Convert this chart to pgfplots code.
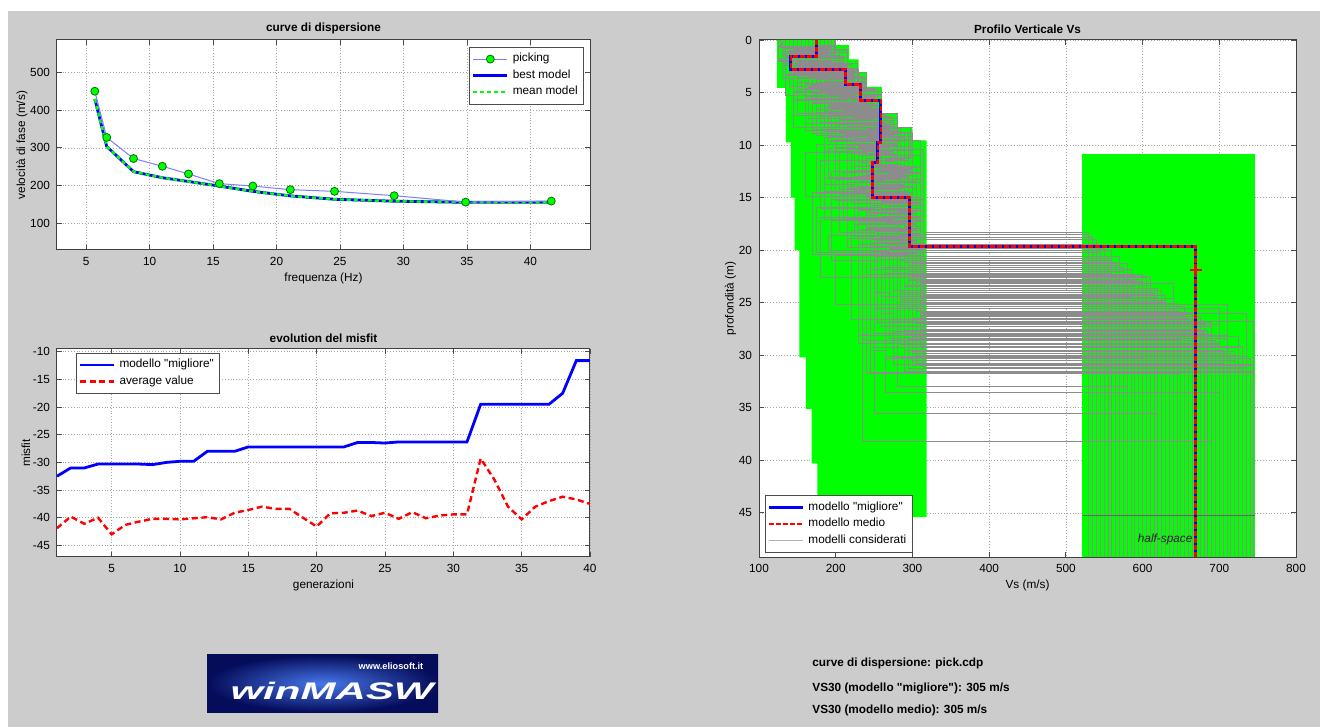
\documentclass[border=0pt]{standalone}
\usepackage{pgfplots}
\pgfplotsset{compat=1.18}
\usepackage{fontspec}
\setmainfont{Liberation Sans}[Ligatures=TeXOff]
\definecolor{bg}{RGB}{204,204,204}
\definecolor{pick}{RGB}{125,125,255}
\definecolor{mgreen}{RGB}{0,255,0}
\definecolor{mblue}{RGB}{0,0,255}
\definecolor{mred}{RGB}{255,0,0}
\definecolor{mgray}{RGB}{140,140,140}
\definecolor{logoin}{RGB}{70,120,235}
\definecolor{logoout}{RGB}{5,12,90}
\newcommand{\fs}{\fontsize{5.9}{7}\selectfont}
\pgfplotsset{
  mat/.style={scale only axis, anchor=south west,
    axis background/.style={fill=white},
    grid=major, grid style={densely dotted, line width=0.3pt, black!35},
    tick align=inside, major tick length=2.5pt,
    tick style={black!70, line width=0.4pt},
    axis line style={black!75, line width=0.5pt},
    tick label style={font=\fs}, label style={font=\fs},
    title style={font=\fs\bfseries, yshift=-6.5pt},
    xlabel shift=-3pt, ylabel shift=-5.5pt,
    legend style={font=\fs, draw=black!70, fill=white, line width=0.4pt, inner sep=1pt, row sep=-1.5pt},
    legend cell align=left,
    /pgf/number format/assume math mode=true,
    /pgf/number format/1000 sep={}},
  mdl/.style={const plot mark right, mgray, line width=0.45pt, forget plot, mark=none}
}
\begin{document}
\begin{tikzpicture}
\useasboundingbox (0,0) rectangle (660pt,363.5pt);
\fill[bg] (0,0) rectangle (660pt,363.5pt);
\fill[white] (0,358.2pt) rectangle (660pt,363.5pt);
\fill[white] (0,0) rectangle (4pt,363.5pt);

% ---------- curve di dispersione
\begin{axis}[mat, at={(28.5pt,238.5pt)}, width=266.5pt, height=105pt,
  xmin=2.7, xmax=44.7, ymin=30, ymax=585,
  xtick={5,10,...,40}, ytick={100,200,...,500},
  title={curve di dispersione}, xlabel={frequenza (Hz)}, ylabel={velocità di fase (m/s)},
  legend style={at={(0.989,0.967)}, anchor=north east}]
\addplot[mblue, line width=1.4pt, forget plot] coordinates {
(5.68,429)(6.62,303.5)(8.73,237)(11.0,221)(13.06,211)(15.49,199)(18.13,185)(21.09,173)(24.57,164)(29.27,159)(34.9,156)(41.65,156)};
\addplot[mgreen, line width=1.2pt, dash pattern=on 2pt off 1.5pt, forget plot] coordinates {
(5.68,429)(6.62,303.5)(8.73,237)(11.0,221)(13.06,211)(15.49,199)(18.13,185)(21.09,173)(24.57,164)(29.27,159)(34.9,156)(41.65,156)};
\addplot[pick, line width=0.5pt, mark=*, mark size=2pt, mark options={fill=mgreen, draw=green!45!black, line width=0.4pt}, forget plot] coordinates {
(5.68,449.6)(6.62,327.4)(8.73,271.7)(11.0,251.3)(13.06,231)(15.49,205.3)(18.13,199)(21.09,189.4)(24.57,185)(29.27,173.5)(34.9,156.6)(41.65,159.3)};
\addlegendimage{pick, line width=0.5pt, mark=*, mark size=2pt, mark options={fill=mgreen, draw=green!45!black, line width=0.4pt}}
\addlegendentry{picking}
\addlegendimage{mblue, line width=1.4pt}
\addlegendentry{best model}
\addlegendimage{mgreen, line width=1.2pt, dash pattern=on 2pt off 1.5pt}
\addlegendentry{mean model}
\end{axis}

% ---------- evolution del misfit
\begin{axis}[mat, at={(28.5pt,85pt)}, width=266.5pt, height=104pt,
  xmin=1, xmax=40, ymin=-47.1, ymax=-9.5,
  xtick={5,10,...,40}, ytick={-45,-40,...,-10},
  title={evolution del misfit}, xlabel={generazioni}, ylabel={misfit},
  legend style={at={(0.036,0.982)}, anchor=north west}]
\addplot[mblue, line width=1.4pt] coordinates {
(1,-32.5)(2,-31.0)(3,-31.0)(4,-30.3)(5,-30.3)(6,-30.3)(7,-30.3)(8,-30.4)(9,-30.0)(10,-29.8)
(11,-29.8)(12,-28.0)(13,-28.0)(14,-28.0)(15,-27.2)(16,-27.2)(17,-27.2)(18,-27.2)(19,-27.2)(20,-27.2)
(21,-27.2)(22,-27.2)(23,-26.4)(24,-26.4)(25,-26.5)(26,-26.3)(27,-26.3)(28,-26.3)(29,-26.3)(30,-26.3)
(31,-26.3)(32,-19.5)(33,-19.5)(34,-19.5)(35,-19.5)(36,-19.5)(37,-19.5)(38,-17.5)(39,-11.6)(40,-11.6)};
\addlegendentry{modello "migliore"}
\addplot[mred, line width=1.2pt, dash pattern=on 3pt off 1.8pt] coordinates {
(1,-41.9)(2,-39.8)(3,-41.1)(4,-40.0)(5,-43.0)(6,-41.3)(7,-40.7)(8,-40.2)(9,-40.2)(10,-40.3)
(11,-40.1)(12,-39.9)(13,-40.3)(14,-39.1)(15,-38.6)(16,-38.0)(17,-38.4)(18,-38.4)(19,-40.0)(20,-41.6)
(21,-39.2)(22,-39.1)(23,-38.7)(24,-39.7)(25,-39.1)(26,-40.2)(27,-39.0)(28,-40.1)(29,-39.6)(30,-39.4)
(31,-39.4)(32,-29.3)(33,-33.1)(34,-38.0)(35,-40.3)(36,-38.0)(37,-37.0)(38,-36.2)(39,-36.7)(40,-37.5)};
\addlegendentry{average value}
\end{axis}

% ---------- Profilo Verticale Vs
\begin{axis}[mat, at={(379.5pt,85pt)}, width=268.5pt, height=258.5pt,
  xmin=100, xmax=800, ymin=0, ymax=49.2, y dir=reverse,
  xtick={100,200,...,800}, ytick={0,5,...,45},
  title={Profilo Verticale Vs}, xlabel={Vs (m/s)}, ylabel={profondità (m)},
  legend style={at={(0.011,0.008)}, anchor=south west}]
\addplot[fill=mgreen, draw=none, forget plot] coordinates {
(123.5,0)(200,0)(200,0.5)(217.5,0.5)(217.5,1.85)(230,1.85)(230,3.1)(241,3.1)(241,4.46)(260,4.46)
(260,7.0)(281,7.0)(281,8.3)(300,8.3)(300,9.56)(318.5,9.56)(318.5,45.4)(176,45.4)(176,40.3)
(168.5,40.3)(168.5,35.1)(161,35.1)(161,30.2)(152.5,30.2)(152.5,20)(146.5,20)(146.5,15)(141.5,15)
(141.5,9.75)(135,9.75)(135,4.55)(123.5,4.55)} -- cycle;
\addplot[fill=mgreen, draw=none, forget plot] coordinates {
(521,10.83)(746.5,10.83)(746.5,49.2)(521,49.2)} -- cycle;
% models considered
\addplot[mdl] coordinates {(160,0)(150,1.2)(190,2.5)(220,4.0)(245,6.0)(270,8.5)(260,12.0)(300,16.0)(610,22.5)(610,49.2)};
\addplot[mdl] coordinates {(190,0)(165,0.8)(205,2.2)(240,4.5)(258,6.5)(280,9.0)(290,13.0)(305,17.5)(700,25.5)(700,49.2)};
\addplot[mdl] coordinates {(150,0)(140,1.5)(180,3.0)(200,4.8)(230,7.0)(250,10.0)(275,13.5)(285,18.0)(560,21.0)(560,49.2)};
\addplot[mdl] coordinates {(170,0)(155,1.0)(200,2.6)(225,3.8)(250,5.5)(240,8.0)(265,11.0)(310,15.5)(735,26.0)(735,49.2)};
\addplot[mdl] coordinates {(145,0)(160,1.8)(175,3.2)(215,5.0)(235,7.5)(260,10.5)(280,14.0)(295,19.0)(650,28.5)(650,49.2)};
\addplot[mdl] coordinates {(180,0)(145,1.4)(210,2.9)(230,4.3)(250,6.0)(255,9.5)(245,12.5)(290,16.5)(590,23.5)(590,49.2)};
\addplot[mdl] coordinates {(155,0)(170,0.6)(195,2.0)(210,3.5)(240,5.2)(275,7.8)(295,11.5)(300,15.0)(720,30.5)(720,49.2)};
\addplot[mdl] coordinates {(200,0)(150,1.9)(185,3.3)(245,4.6)(255,6.8)(265,9.2)(270,12.8)(280,17.0)(545,20.2)(545,49.2)};
\addplot[mdl] coordinates {(165,0)(175,1.1)(215,2.4)(235,4.1)(225,6.2)(250,9.8)(285,13.2)(305,18.5)(680,27.0)(680,49.2)};
\addplot[mdl] coordinates {(140,0)(155,1.6)(170,2.7)(205,4.4)(245,6.6)(280,8.8)(260,12.2)(310,16.8)(620,24.5)(620,49.2)};
\addplot[mdl] coordinates {(185,0)(160,0.9)(220,2.3)(235,3.9)(260,5.8)(245,9.0)(275,11.8)(290,15.8)(745,31.5)(745,49.2)};
\addplot[mdl] coordinates {(150,0)(145,1.3)(190,3.1)(215,4.7)(235,7.2)(270,10.2)(300,14.5)(295,19.5)(575,22.0)(575,49.2)};
\addplot[mdl] coordinates {(175,0)(165,1.7)(200,2.8)(240,4.2)(255,6.3)(260,9.6)(250,12.0)(285,17.2)(700,29.0)(700,49.2)};
\addplot[mdl] coordinates {(160,0)(150,1.0)(210,2.1)(220,4.0)(250,5.6)(265,8.4)(290,11.4)(305,15.2)(530,18.5)(530,49.2)};
\addplot[mdl] coordinates {(195,0)(170,1.5)(180,2.6)(230,4.5)(258,6.9)(255,9.4)(280,13.6)(300,18.2)(660,26.5)(660,49.2)};
\addplot[mdl] coordinates {(145,0)(150,1.2)(195,3.0)(205,4.9)(240,7.1)(250,10.6)(270,14.2)(310,19.8)(600,23.0)(600,49.2)};
\addplot[mdl] coordinates {(170,0)(140,0.7)(205,2.4)(238,3.7)(255,5.4)(275,8.2)(265,11.6)(290,16.2)(690,28.0)(690,49.2)};
\addplot[mdl] coordinates {(155,0)(160,1.8)(185,3.4)(225,5.1)(260,7.4)(240,10.8)(285,14.8)(300,18.8)(555,20.8)(555,49.2)};
\addplot[mdl] coordinates {(180,0)(155,1.4)(215,2.5)(235,4.3)(245,6.4)(270,9.1)(260,12.6)(305,17.6)(725,30.0)(725,49.2)};
\addplot[mdl] coordinates {(165,0)(145,1.1)(190,2.9)(210,4.6)(250,6.7)(285,9.7)(295,13.0)(285,16.4)(630,25.0)(630,49.2)};
\addplot[mdl] coordinates {(150,0)(165,1.6)(200,3.2)(230,4.4)(255,6.1)(250,8.6)(275,12.4)(310,18.4)(675,27.5)(675,49.2)};
\addplot[mdl] coordinates {(190,0)(150,0.9)(175,2.2)(220,4.1)(240,5.9)(260,9.3)(290,13.8)(295,17.8)(570,21.5)(570,49.2)};
\addplot[mdl] coordinates {(160,0)(170,1.3)(210,2.7)(238,3.9)(255,6.5)(245,9.9)(270,12.9)(300,16.6)(740,31.0)(740,49.2)};
\addplot[mdl] coordinates {(175,0)(145,1.7)(195,3.1)(215,4.8)(265,7.3)(275,10.4)(285,14.1)(305,19.2)(610,24.0)(610,49.2)};
\addplot[mdl] coordinates {(145,0)(155,1.0)(185,2.6)(235,4.2)(245,6.0)(265,9.0)(280,11.9)(290,15.6)(705,29.5)(705,49.2)};
\addplot[mdl] coordinates {(185,0)(160,1.5)(200,2.8)(225,4.4)(235,6.8)(255,10.1)(265,13.4)(300,17.4)(540,19.0)(540,49.2)};
\addplot[mdl] coordinates {(155,0)(150,1.2)(220,2.3)(238,3.6)(260,5.3)(270,8.1)(300,11.2)(310,16.0)(655,26.2)(655,49.2)};
\addplot[mdl] coordinates {(170,0)(165,1.9)(190,3.5)(205,5.2)(250,7.6)(240,10.9)(260,15.0)(295,20.0)(595,22.8)(595,49.2)};
\addplot[mdl] coordinates {(160,0)(150,1.4)(195,2.9)(225,4.5)(245,6.6)(250,10.0)(240,16.0)(235,28.0)(690,38.2)(690,49.2)};
\addplot[mdl] coordinates {(175,0)(160,1.1)(205,2.4)(230,4.0)(255,6.2)(265,9.3)(270,14.0)(250,24.0)(620,35.5)(620,49.2)};
\addplot[mdl] coordinates {(150,0)(155,1.6)(185,3.0)(215,4.6)(240,7.0)(260,10.3)(275,15.5)(280,22.0)(580,33.0)(580,49.2)};
\addplot[mdl] coordinates {(130,0)(200,0.6)(150,2.1)(238,3.6)(200,5.2)(280,8.0)(180,11.5)(240,16.0)(600,22.3)(600,49.2)};
\addplot[mdl] coordinates {(198,0)(135,1.8)(225,3.4)(180,5.3)(275,7.8)(220,10.8)(310,15.6)(200,20.5)(710,25.2)(710,49.2)};
\addplot[mdl] coordinates {(140,0)(215,1.0)(170,2.5)(240,4.2)(190,6.3)(290,9.2)(230,13.0)(315,17.3)(530,18.3)(530,49.2)};
\addplot[mdl] coordinates {(200,0)(175,0.5)(130,2.0)(240,3.7)(160,5.6)(260,8.6)(300,12.2)(270,15.8)(745,26.8)(745,49.2)};
\addplot[mdl] coordinates {(135,0)(185,1.5)(228,3.0)(150,4.9)(280,7.0)(175,9.9)(250,14.6)(310,19.0)(640,23.2)(640,49.2)};
\addplot[mdl] coordinates {(195,0)(155,1.3)(160,2.8)(205,4.6)(220,7.6)(315,10.4)(195,15.2)(260,21.0)(690,27.3)(690,49.2)};
\addplot[mdl] coordinates {(125,0)(210,1.9)(195,3.5)(160,5.4)(265,7.9)(230,11.0)(280,14.0)(190,18.6)(560,20.0)(560,49.2)};
\addplot[mdl] coordinates {(195,0)(130,0.8)(228,2.2)(240,3.9)(170,6.0)(295,8.9)(210,12.6)(300,17.0)(725,28.2)(725,49.2)};
\addplot[mdl] coordinates {(150,0)(215,1.2)(140,2.6)(190,4.4)(258,6.6)(200,9.5)(315,13.3)(245,19.4)(585,21.8)(585,49.2)};
\addplot[mdl] coordinates {(180,0)(195,1.6)(225,3.3)(145,5.0)(230,7.2)(260,10.1)(175,15.9)(305,20.2)(705,30.8)(705,49.2)};
\addplot[mdl] coordinates {(128,0)(165,0.7)(215,2.4)(238,4.0)(145,5.8)(298,8.3)(240,11.3)(285,16.4)(615,24.2)(615,49.2)};
\addplot[mdl] coordinates {(190,0)(140,1.4)(155,2.9)(230,4.7)(275,7.4)(185,10.6)(295,14.4)(220,18.1)(670,26.6)(670,49.2)};
\addplot[mdl] coordinates {(165,0)(215,1.0)(185,2.3)(175,3.8)(210,6.9)(250,9.0)(310,12.1)(265,17.9)(545,19.5)(545,49.2)};
\addplot[mdl] coordinates {(135,0)(180,1.7)(230,3.2)(260,5.2)(240,7.7)(160,10.7)(270,14.9)(315,19.9)(735,31.2)(735,49.2)};
\addplot[mdl] coordinates {(200,0)(125,0.6)(170,2.0)(195,4.3)(255,6.1)(225,9.4)(185,13.7)(275,17.1)(625,23.8)(625,49.2)};
\addplot[mdl] coordinates {(145,0)(205,1.5)(228,2.7)(215,4.5)(185,6.4)(285,8.7)(255,12.3)(240,16.7)(695,28.6)(695,49.2)};
\addplot[mdl] coordinates {(190,0)(170,1.1)(145,3.1)(255,4.9)(225,7.3)(200,10.2)(300,15.3)(290,20.8)(565,21.2)(565,49.2)};
\addplot[mdl] coordinates {(130,0)(150,1.9)(205,3.4)(170,5.1)(260,7.5)(240,10.5)(225,14.3)(300,18.7)(715,29.8)(715,49.2)};
\addplot[mdl] coordinates {(175,0)(215,0.9)(160,2.5)(235,4.1)(195,6.5)(270,9.6)(310,12.7)(180,16.9)(605,22.6)(605,49.2)};
\addplot[mdl] coordinates {(200,0)(160,1.2)(190,2.8)(250,4.6)(280,7.0)(215,10.0)(245,13.9)(305,19.6)(650,25.8)(650,49.2)};
\addplot[mdl] coordinates {(140,0)(190,1.6)(225,3.0)(185,4.8)(235,6.8)(300,9.2)(205,14.7)(250,18.3)(680,27.9)(680,49.2)};
\addplot[mdl] coordinates {(195,0)(145,0.8)(175,2.3)(225,3.8)(170,5.9)(255,8.5)(290,11.8)(310,17.7)(550,19.8)(550,49.2)};
\addplot[mdl] coordinates {(160,0)(200,1.3)(135,3.3)(200,5.3)(245,7.1)(190,10.3)(280,13.1)(265,18.9)(740,30.3)(740,49.2)};
\addplot[mdl] coordinates {(125,0)(175,1.8)(215,2.9)(240,4.4)(260,6.7)(280,9.8)(170,14.5)(295,20.4)(590,22.9)(590,49.2)};
\addplot[mdl] coordinates {(185,0)(205,1.0)(165,2.1)(150,4.0)(215,5.7)(235,8.2)(300,12.9)(230,17.5)(700,28.9)(700,49.2)};
\addplot[mdl] coordinates {(150,0)(140,1.4)(230,3.2)(210,5.0)(275,7.7)(310,11.0)(255,15.0)(285,19.1)(630,24.8)(630,49.2)};
\addplot[mdl] coordinates {(195,0)(180,0.7)(150,2.6)(255,4.7)(190,6.2)(265,9.7)(230,13.5)(315,16.2)(665,26.1)(665,49.2)};
\addplot[mdl] coordinates {(135,0)(215,1.7)(200,3.0)(175,4.3)(250,6.9)(215,10.0)(290,14.1)(260,18.8)(575,21.6)(575,49.2)};
\addplot[mdl] coordinates {(170,0)(130,1.1)(185,2.4)(238,3.9)(205,5.5)(300,8.8)(195,12.5)(310,17.2)(730,29.2)(730,49.2)};
\addplot[mdl] coordinates {(190,0)(185,1.5)(220,3.4)(165,5.4)(280,7.5)(245,10.9)(315,15.7)(250,20.6)(635,25.5)(635,49.2)};
\addplot[mdl] coordinates {(145,0)(175,0.9)(160,2.7)(235,4.2)(230,6.3)(185,9.3)(250,13.2)(290,19.3)(685,27.6)(685,49.2)};
\addplot[mdl] coordinates {(180,0)(150,1.9)(240,3.1)(195,4.6)(265,7.8)(295,10.4)(275,14.8)(300,18.0)(535,18.8)(535,49.2)};
\addplot[mdl] coordinates {(130,0)(195,1.3)(180,2.5)(260,4.9)(175,6.6)(225,9.1)(305,12.0)(270,16.5)(710,28.4)(710,49.2)};
\addplot[mdl] coordinates {(200,0)(165,0.6)(210,2.2)(220,4.1)(240,6.0)(280,8.4)(215,13.6)(310,19.7)(620,23.6)(620,49.2)};
\addplot[mdl] coordinates {(155,0)(210,1.6)(235,3.5)(180,5.1)(255,7.3)(205,10.6)(285,14.2)(245,17.8)(745,31.6)(745,49.2)};
\addplot[mdl] coordinates {(165,0)(185,1.2)(200,2.8)(215,4.5)(230,6.4)(245,10.0)(260,17.0)(275,26.0)(600,30.2)(600,49.2)};
\addplot[mdl] coordinates {(190,0)(160,0.8)(210,2.4)(235,4.2)(250,6.2)(270,9.6)(235,18.0)(240,28.5)(650,31.7)(650,49.2)};
\addplot[mdl] coordinates {(140,0)(175,1.5)(195,3.1)(205,4.9)(260,7.0)(230,11.0)(250,19.5)(265,29.5)(700,33.5)(700,49.2)};
\addplot[mdl] coordinates {(150,0)(165,1.3)(205,2.6)(225,4.3)(250,6.3)(275,9.0)(305,13.5)(265,18.0)(560,22.2)(560,49.2)};
\addplot[mdl] coordinates {(185,0)(145,0.9)(190,2.2)(215,3.7)(235,5.4)(260,8.1)(230,11.7)(285,16.9)(640,24.6)(640,49.2)};
\addplot[mdl] coordinates {(135,0)(175,1.6)(195,3.0)(230,4.5)(255,6.8)(240,10.3)(295,14.6)(315,19.4)(700,27.1)(700,49.2)};
\addplot[mdl] coordinates {(170,0)(155,1.1)(215,2.7)(200,4.0)(225,5.9)(290,8.9)(255,12.8)(300,17.3)(580,21.3)(580,49.2)};
\addplot[mdl] coordinates {(160,0)(190,1.8)(170,3.2)(210,5.0)(260,7.2)(300,10.1)(270,14.9)(245,20.1)(725,29.3)(725,49.2)};
\addplot[mdl] coordinates {(195,0)(160,0.7)(185,2.0)(240,4.1)(245,6.1)(225,9.4)(280,13.0)(310,18.6)(665,25.9)(665,49.2)};
\addplot[mdl] coordinates {(140,0)(150,1.4)(225,2.9)(195,4.6)(255,6.6)(280,9.9)(215,14.2)(290,18.9)(610,23.4)(610,49.2)};
\addplot[mdl] coordinates {(180,0)(205,1.0)(155,2.4)(235,3.6)(210,6.5)(265,8.7)(310,12.6)(275,17.0)(745,30.9)(745,49.2)};
\addplot[mdl] coordinates {(155,0)(140,1.7)(180,3.3)(220,5.1)(240,7.5)(295,10.5)(260,15.4)(305,20.3)(545,21.0)(545,49.2)};
\addplot[mdl] coordinates {(190,0)(175,1.2)(210,2.5)(190,4.4)(265,7.1)(235,9.8)(300,13.9)(255,18.4)(690,26.9)(690,49.2)};
\addplot[mdl] coordinates {(130,0)(195,1.5)(215,3.1)(250,4.8)(230,6.9)(270,10.0)(245,14.4)(315,19.0)(630,24.3)(630,49.2)};
\addplot[mdl] coordinates {(175,0)(150,0.8)(200,2.1)(220,3.8)(245,5.7)(285,8.4)(300,12.3)(230,16.1)(710,28.1)(710,49.2)};
\addplot[mdl] coordinates {(200,0)(170,1.9)(160,3.4)(205,5.3)(250,7.7)(260,11.2)(285,15.1)(295,19.8)(590,22.4)(590,49.2)};
\addplot[mdl] coordinates {(145,0)(185,1.0)(230,2.8)(180,4.3)(235,6.0)(310,9.6)(240,13.6)(280,17.8)(655,25.4)(655,49.2)};
\addplot[mdl] coordinates {(165,0)(155,1.5)(190,3.0)(245,4.7)(270,7.3)(250,10.7)(305,14.0)(265,19.1)(735,30.1)(735,49.2)};
\addplot[mdl] coordinates {(185,0)(200,1.3)(175,2.6)(215,4.0)(230,5.6)(240,8.3)(270,11.9)(300,16.4)(570,20.6)(570,49.2)};
\addplot[mdl] coordinates {(140,0)(160,0.6)(205,2.3)(235,4.2)(200,6.4)(275,9.1)(295,13.1)(310,18.1)(675,26.3)(675,49.2)};
\addplot[mdl] coordinates {(195,0)(145,1.6)(220,2.9)(185,4.9)(260,7.0)(230,10.2)(255,14.7)(285,20.6)(615,24.0)(615,49.2)};
\addplot[mdl] coordinates {(160,0)(180,1.1)(165,2.5)(240,4.5)(255,6.7)(295,9.5)(225,12.4)(300,17.6)(720,29.6)(720,49.2)};
\addplot[mdl] coordinates {(150,0)(210,1.8)(195,3.3)(225,4.6)(275,7.4)(260,11.0)(310,15.3)(250,19.0)(550,19.6)(550,49.2)};
\addplot[mdl] coordinates {(175,0)(140,1.2)(185,2.7)(210,4.4)(240,6.2)(265,8.9)(280,12.0)(305,16.3)(600,23.1)(600,49.2)};
\addplot[mdl] coordinates {(135,0)(170,1.7)(215,3.4)(235,5.0)(245,7.0)(300,10.5)(265,14.5)(275,19.5)(680,27.7)(680,49.2)};
\addplot[mdl] coordinates {(190,0)(160,0.9)(205,2.1)(195,3.9)(250,5.8)(280,8.6)(240,12.8)(310,17.9)(645,25.1)(645,49.2)};
\addplot[mdl] coordinates {(155,0)(185,1.4)(175,2.8)(225,4.2)(258,6.6)(290,9.3)(250,13.7)(295,18.2)(730,31.3)(730,49.2)};
\addplot[mdl] coordinates {(170,0)(150,1.8)(200,3.1)(240,4.6)(215,7.2)(255,10.4)(290,15.0)(260,20.9)(585,24.4)(585,49.2)};
\addplot[black!60, line width=0.4pt, forget plot] coordinates {(521,45.2)(746.5,45.2)};
% best and mean models
\addplot[const plot mark right, mblue, line width=1.5pt, forget plot] coordinates {
(175,0)(141.5,1.59)(212.5,2.8)(232.5,4.24)(259,5.73)(255,9.75)(248,11.66)(296,14.97)(669,19.63)(669,49.2)};
\addplot[const plot mark right, mred, line width=1.3pt, dash pattern=on 2.5pt off 1pt, forget plot] coordinates {
(175,0)(141.5,1.59)(212.5,2.8)(232.5,4.24)(259,5.73)(255,9.75)(248,11.66)(296,14.97)(669,19.63)(669,49.2)};
\addplot[only marks, mark=+, mred, mark size=3pt, line width=1.2pt, forget plot] coordinates {(669,21.9)};
\node[font=\fs\itshape, anchor=east, black!85, inner sep=1pt] at (axis cs:668,47.5) {half-space};
\addlegendimage{mblue, line width=1.5pt}
\addlegendentry{modello "migliore"}
\addlegendimage{mred, line width=1.3pt, dash pattern=on 2.5pt off 1pt}
\addlegendentry{modello medio}
\addlegendimage{black!30, line width=0.5pt}
\addlegendentry{modelli considerati}
\end{axis}

% ---------- logo and info text
\shade[inner color=logoin, outer color=logoout] (103.5pt,7.5pt) rectangle (219pt,36pt);
\node[white, font=\fontsize{12}{12}\selectfont\bfseries\itshape, xscale=1.75, inner sep=0pt] at (166pt,18.25pt) {winMASW};
\node[white, font=\fontsize{4.6}{5}\selectfont\bfseries, inner sep=0pt] at (195.5pt,30.6pt) {www.eliosoft.it};
\node[anchor=west, font=\fs\bfseries, inner sep=0pt] at (406pt,32pt) {curve di dispersione: pick.cdp};
\node[anchor=west, font=\fs\bfseries, inner sep=0pt] at (406pt,19.5pt) {VS30 (modello "migliore"): 305 m/s};
\node[anchor=west, font=\fs\bfseries, inner sep=0pt] at (406pt,8.5pt) {VS30 (modello medio): 305 m/s};
\end{tikzpicture}
\end{document}
